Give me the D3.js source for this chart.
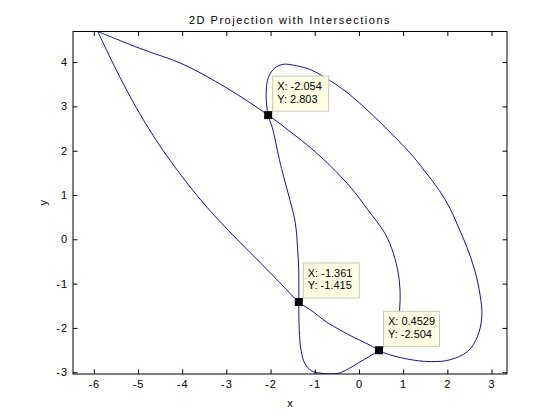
<!DOCTYPE html>
<html>
<head>
<meta charset="utf-8">
<script src="https://cdn.jsdelivr.net/npm/d3@7"></script>
<style>
  body { margin: 0; background: #fff; }
  svg { display: block; font-family: "Liberation Sans", Arial, sans-serif; }
</style>
</head>
<body>
<svg id="chart"></svg>
<script>
// Curve points (one closed path, starts and ends at the top vertex)
const curveX = [
  -5.91, -4.96, -3.98, -3.00, -2.054, -1.49, -1.10, -0.65, -0.16, 0.19, 0.59, 0.78, 0.89, 0.93, 0.92, 0.86, 0.70,
  0.4529, 0.02, -0.42, -0.65, -0.88, -1.07, -1.22, -1.31, -1.35,
  -1.361, -1.36, -1.39, -1.44, -1.56, -1.70, -1.80, -1.96,
  -2.054, -2.10, -2.05, -1.90, -1.71, -1.48, -1.10, -0.65, -0.25, 0.14, 0.50, 0.85, 1.20, 1.52, 1.82, 2.06,
  2.24, 2.44, 2.62, 2.74, 2.78, 2.68, 2.46, 2.06, 1.61, 1.08, 0.59,
  0.4529, 0.25, -0.20, -0.42, -0.73, -1.03,
  -1.361, -1.75, -2.20, -2.70, -3.20, -3.65, -4.05, -4.45, -4.85, -5.22, -5.58, -5.91
];
const curveY = [
  4.69, 4.31, 3.95, 3.42, 2.803, 2.38, 2.07, 1.66, 1.14, 0.68, 0.13, -0.32, -0.77, -1.15, -1.60, -2.00, -2.30,
  -2.504, -2.77, -3.01, -3.04, -3.02, -2.97, -2.81, -2.51, -2.05,
  -1.415, -0.77, -0.17, 0.37, 0.88, 1.40, 1.80, 2.52,
  2.803, 3.27, 3.65, 3.87, 3.95, 3.93, 3.83, 3.58, 3.30, 2.96, 2.62, 2.27, 1.90, 1.50, 1.10, 0.70,
  0.30, -0.17, -0.70, -1.25, -1.75, -2.20, -2.53, -2.72, -2.76, -2.70, -2.57,
  -2.504, -2.39, -2.17, -2.05, -1.87, -1.64,
  -1.415, -1.02, -0.56, -0.06, 0.46, 0.97, 1.48, 2.03, 2.65, 3.30, 4.00, 4.69
];

// Intersections (data tips)
const tipX = [-2.054, -1.361, 0.4529];
const tipY = [2.803, -1.415, -2.504];
const tipText = [["X: -2.054", "Y: 2.803"], ["X: -1.361", "Y: -1.415"], ["X: 0.4529", "Y: -2.504"]];

const xTicks = [-6, -5, -4, -3, -2, -1, 0, 1, 2, 3];
const yTicks = [-3, -2, -1, 0, 1, 2, 3, 4];
const xDomain = [-6.47, 3.35];
const yDomain = [-3.04, 4.69];

const width = 560, height = 420;
const box = { left: 73, right: 507, top: 31.5, bottom: 374 };

const svg = d3.select("#chart").attr("width", width).attr("height", height);
svg.append("rect").attr("width", width).attr("height", height).attr("fill", "#fff");

const x = d3.scaleLinear().domain(xDomain).range([box.left, box.right]);
const y = d3.scaleLinear().domain(yDomain).range([box.bottom, box.top]);

svg.append("clipPath").attr("id", "clip")
  .append("rect")
  .attr("x", box.left).attr("y", box.top)
  .attr("width", box.right - box.left).attr("height", box.bottom - box.top);

// curve
const pts = curveX.map((d, i) => [d, curveY[i]]);
const line = d3.line().x(d => x(d[0])).y(d => y(d[1])).curve(d3.curveCatmullRom.alpha(0.5));
svg.append("path")
  .attr("clip-path", "url(#clip)")
  .attr("d", line(pts))
  .attr("fill", "none")
  .attr("stroke", "#12129c")
  .attr("stroke-width", 1);

// axes (inward ticks on all four sides, MATLAB style)
const tickLen = 4.5;
const fs = 11;
const fmt = d => String(d); // plain hyphen minus like MATLAB
function styleAxis(g) {
  g.selectAll("path.domain").remove();
  g.selectAll("line").attr("stroke", "#000");
  g.selectAll("text").attr("font-size", fs).attr("fill", "#000").attr("letter-spacing", 1);
}
svg.append("g").attr("transform", `translate(0,${box.bottom})`)
  .call(d3.axisBottom(x).tickValues(xTicks).tickSizeInner(-tickLen).tickSizeOuter(0).tickPadding(6).tickFormat(fmt))
  .call(styleAxis);
svg.append("g").attr("transform", `translate(0,${box.top})`)
  .call(d3.axisTop(x).tickValues(xTicks).tickSizeInner(-tickLen).tickSizeOuter(0).tickFormat(""))
  .call(styleAxis);
svg.append("g").attr("transform", `translate(${box.left},0)`)
  .call(d3.axisLeft(y).tickValues(yTicks).tickSizeInner(-tickLen).tickSizeOuter(0).tickPadding(5).tickFormat(fmt))
  .call(styleAxis);
svg.append("g").attr("transform", `translate(${box.right},0)`)
  .call(d3.axisRight(y).tickValues(yTicks).tickSizeInner(-tickLen).tickSizeOuter(0).tickFormat(""))
  .call(styleAxis);

svg.append("rect")
  .attr("x", box.left).attr("y", box.top)
  .attr("width", box.right - box.left).attr("height", box.bottom - box.top)
  .attr("fill", "none").attr("stroke", "#000").attr("stroke-width", 1);

// data tips
tipX.forEach((tx, i) => {
  const px = x(tx), py = y(tipY[i]);
  const g = svg.append("g");
  const bw = 56, bh = 35;
  g.append("rect")
    .attr("x", px + 4.5).attr("y", py - 4 - bh)
    .attr("width", bw).attr("height", bh)
    .attr("fill", "#ffffe6").attr("stroke", "#c8c8b8").attr("stroke-width", 1);
  tipText[i].forEach((t, j) => {
    g.append("text")
      .attr("x", px + 9).attr("y", py - 4 - bh + 14 + j * 12.5)
      .attr("font-size", 11).attr("fill", "#000")
      .text(t);
  });
  g.append("rect")
    .attr("x", px - 4).attr("y", py - 4)
    .attr("width", 8).attr("height", 8)
    .attr("fill", "#000");
});

// title and labels
svg.append("text").attr("x", (box.left + box.right) / 2).attr("y", 24)
  .attr("text-anchor", "middle").attr("font-size", fs).attr("letter-spacing", 1.5)
  .text("2D Projection with Intersections");
svg.append("text").attr("x", (box.left + box.right) / 2).attr("y", 407)
  .attr("text-anchor", "middle").attr("font-size", fs).text("x");
svg.append("text")
  .attr("transform", `translate(47,${(box.top + box.bottom) / 2}) rotate(-90)`)
  .attr("text-anchor", "middle").attr("font-size", fs).text("y");
</script>
</body>
</html>
